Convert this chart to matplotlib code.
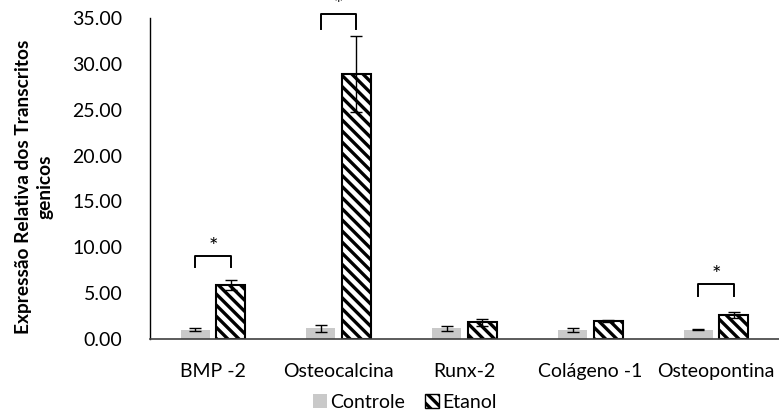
import matplotlib
matplotlib.use("Agg")
import matplotlib.pyplot as plt
import matplotlib.patches as mpatches
import numpy as np

plt.rcParams['font.family'] = ['Lato', 'DejaVu Sans']
plt.rcParams['hatch.linewidth'] = 2.4

genes = ['BMP -2', 'Osteocalcina', 'Runx-2', 'Colágeno -1', 'Osteopontina']
controle = [1.0, 1.15, 1.15, 1.0, 1.0]
controle_err = [0.15, 0.4, 0.3, 0.2, 0.05]
etanol = [5.9, 28.9, 1.8, 1.95, 2.6]
etanol_err = [0.55, 4.1, 0.4, 0.15, 0.3]
yticks = [0, 5, 10, 15, 20, 25, 30, 35]

# significance brackets: (gene index, bracket height, leg bottom)
sig = [(0, 9.05, 7.8), (1, 35.4, 33.8), (4, 6.0, 4.7)]

fig = plt.figure(figsize=(7.79, 4.2), dpi=100)
ax = fig.add_axes([150/779, 1 - 339/420, 629/779, 321/420])

x = np.arange(len(genes))
w = 0.23
off = 0.141
hatch = '\\\\\\'

ax.bar(x - off, controle, w, color='#c9c9c9', edgecolor='none', zorder=2)
ax.errorbar(x - off, controle, yerr=controle_err, fmt='none', ecolor='black',
            elinewidth=1, capsize=4, capthick=1, zorder=3)
ax.bar(x + off, etanol, w, color='white', edgecolor='black', linewidth=1.5,
       hatch=hatch, zorder=2)
ax.errorbar(x + off, etanol, yerr=etanol_err, fmt='none', ecolor='black',
            elinewidth=1, capsize=4, capthick=1, zorder=3)

for i, top, leg in sig:
    x0, x1 = i - off, i + off
    ax.plot([x0, x0, x1, x1], [leg, top, top, leg], color='black', lw=1.4,
            clip_on=False, zorder=4)
    ax.text(i, top + 1.0, '*', ha='center', va='center', fontsize=16,
            clip_on=False)

ax.set_xlim(-0.5, len(genes) - 0.5)
ax.set_ylim(0, 35)
ax.set_yticks(yticks)
ax.set_yticklabels(['%.2f' % v for v in yticks], fontsize=14)
ax.set_xticks(x)
ax.set_xticklabels(genes, fontsize=14)
ax.tick_params(axis='x', length=0, pad=17)
ax.tick_params(axis='y', length=0, pad=20)
for s in ['top', 'right']:
    ax.spines[s].set_visible(False)
ax.spines['left'].set_color('black')
ax.spines['bottom'].set_color('#404040')
ax.spines['left'].set_linewidth(1)
ax.spines['bottom'].set_linewidth(1.2)

ax.set_ylabel('Expressão Relativa dos Transcritos\ngenicos', fontsize=13.8,
              fontweight='bold', linespacing=1.3, va='center')
ax.yaxis.set_label_coords((34 - 150) / 629, 0.473)

h1 = mpatches.Patch(facecolor='#c9c9c9', edgecolor='none', label='Controle')
h2 = mpatches.Patch(facecolor='white', edgecolor='black', hatch=hatch,
                    label='Etanol')
fig.legend(handles=[h1, h2], loc='center', bbox_to_anchor=(405/779, 1 - 402/420),
           ncol=2, frameon=False, fontsize=14, handlelength=0.7,
           handleheight=0.7, handletextpad=0.2, columnspacing=1.0)

fig.savefig('out.png', dpi=100)
